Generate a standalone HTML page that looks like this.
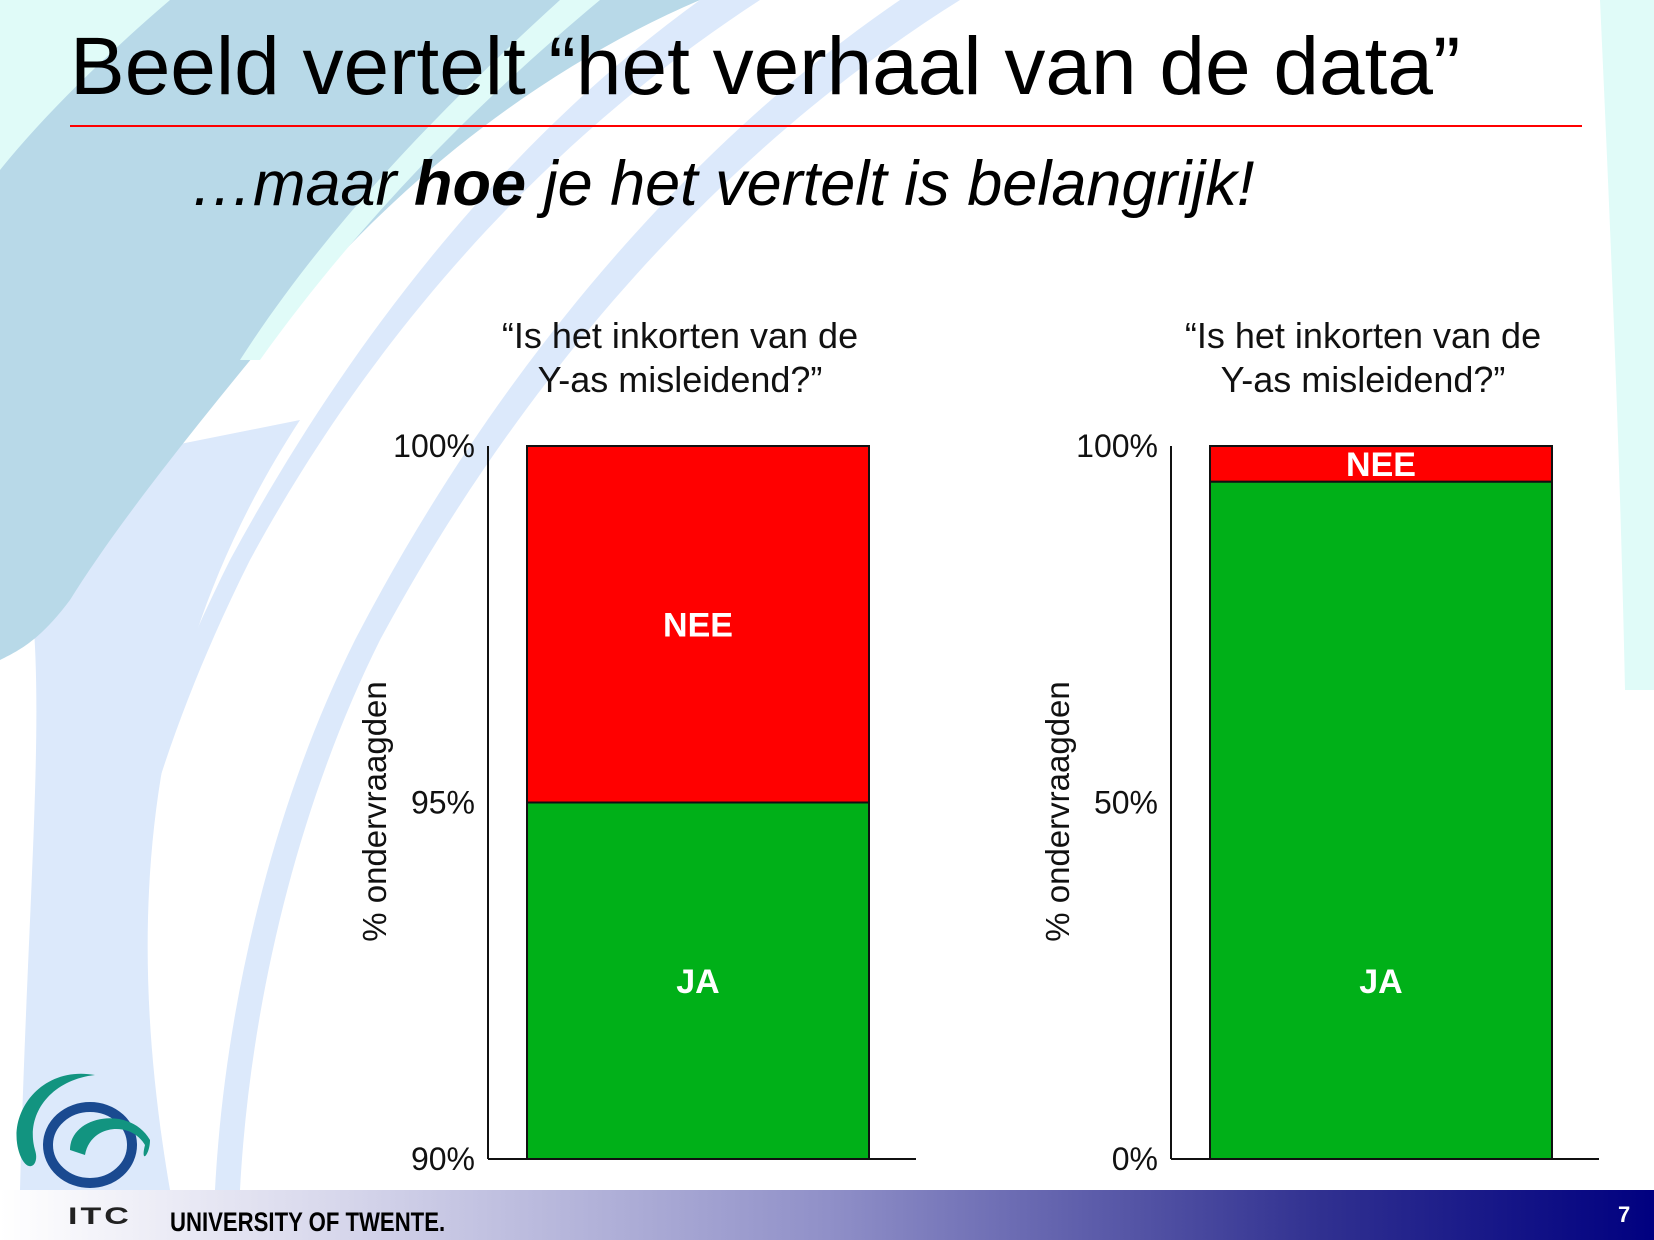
<!DOCTYPE html>
<html><head><meta charset="utf-8"><style>
body{margin:0;width:1654px;height:1240px;overflow:hidden;background:#fff;font-family:"Liberation Sans",sans-serif;position:relative}
.abs{position:absolute}
</style></head><body>
<svg class="abs" style="left:0;top:0" width="1654" height="1240">
<rect x="0" y="0" width="1654" height="1240" fill="#fff"/>
<path d="M0 480 C60 600 30 800 20 1190 L170 1190 C120 900 150 650 300 420 Z" fill="#dce9fb"/>
<path d="M0 0 L700 0 C560 60 420 160 300 300 C200 420 120 520 70 600 C40 640 20 650 0 660 Z" fill="#b8d9e8"/>
<path d="M0 0 L170 0 C100 60 40 120 0 170 Z" fill="#e0fbf8"/>
<path d="M560 0 L600 0 C480 100 360 220 260 360 L240 360 C330 220 450 100 560 0 Z" fill="#e0fbf8"/>
<path d="M700 0 L760 0 C560 130 380 320 250 560 C150 760 100 950 90 1190 L70 1190 C80 950 130 760 230 560 C360 320 520 130 700 0 Z" fill="#dce9fb"/>
<path d="M900 0 L960 0 C720 150 520 380 380 640 C300 800 250 1000 240 1190 L215 1190 C225 1000 275 800 355 640 C490 380 680 150 900 0 Z" fill="#dce9fb"/>
<path d="M1600 0 L1654 0 L1654 690 L1625 690 C1620 450 1610 220 1600 0 Z" fill="#e0fbf8"/>
</svg>
<div class="abs" style="left:70px;top:20px;font-size:82px;color:#000;white-space:nowrap">Beeld vertelt “het verhaal van de data”</div>
<div class="abs" style="left:70px;top:125px;width:1512px;height:2px;background:#f00"></div>
<div class="abs" style="left:190px;top:148px;font-size:63px;font-style:italic;color:#000;white-space:nowrap">…maar <b>hoe</b> je het vertelt is belangrijk!</div>

<svg class="abs" id="charts" style="left:0;top:0" width="1654" height="1190" font-family="Liberation Sans, sans-serif"></svg>

<div class="abs" style="left:0;top:1190px;width:1654px;height:50px;background:linear-gradient(90deg,#ffffff 0%,#d8d8ec 20%,#9090c8 50%,#303090 80%,#000080 100%)"></div>
<div class="abs" style="left:1618px;top:1202px;font-size:22px;font-weight:bold;color:#fff">7</div>
<div class="abs" style="left:68px;top:1203px;font-size:34px;font-weight:900;letter-spacing:3px;color:#222;transform:scaleY(0.7);transform-origin:top left">ITC</div>
<div class="abs" style="left:170px;top:1207px;font-size:27px;font-weight:bold;color:#000;white-space:nowrap;transform:scaleX(0.82);transform-origin:left">UNIVERSITY OF TWENTE.</div>
<svg class="abs" style="left:0;top:1055px" width="160" height="135">
<ellipse cx="90" cy="90" rx="42" ry="38" fill="none" stroke="#1a4a90" stroke-width="10"/>
<path d="M95 20 C40 10 5 60 20 100 C28 120 40 110 35 95 C25 60 50 25 95 20 Z" fill="#129480"/>
<path d="M70 95 C70 60 130 50 150 85 C150 100 140 110 145 90 C130 65 90 70 85 100 Z" fill="#129480"/>
</svg>

<script>
const categories=["JA","NEE"];
const jaValues=[95,95];
const neeValues=[5,5];
const axisMin=[90,0];
const axisMax=[100,100];
const tickLabels=[["90%","95%","100%"],["0%","50%","100%"]];
const tickValues=[[90,95,100],[0,50,100]];
const chartTitle=["“Is het inkorten van de","Y-as misleidend?”"];
const NS="http://www.w3.org/2000/svg";
const svg=document.getElementById('charts');
function mk(tag,attrs,text){const e=document.createElementNS(NS,tag);for(const k in attrs)e.setAttribute(k,attrs[k]);if(text!==undefined)e.textContent=text;svg.appendChild(e);return e;}
const layouts=[{ax:488,bx0:527,bx1:869,aEnd:916},{ax:1171,bx0:1210,bx1:1552,aEnd:1599}];
const plotTop=446,plotBottom=1159;
layouts.forEach((L,i)=>{
  const y=v=>plotBottom-(v-axisMin[i])/(axisMax[i]-axisMin[i])*(plotBottom-plotTop);
  const clamp=v=>Math.max(axisMin[i],Math.min(axisMax[i],v));
  const cx=(L.bx0+L.bx1)/2;
  chartTitle.forEach((t,j)=>{const e=mk('text',{x:cx-18,y:348+j*44,'text-anchor':'middle','font-size':36,fill:'#111'},t);
    
    });
  const jTop=y(clamp(jaValues[i]));
  const ja=mk('rect',{x:L.bx0,y:jTop,width:L.bx1-L.bx0,height:plotBottom-jTop,fill:'#00b018',stroke:'#111','stroke-width':2});
  
  
  const nTop=y(clamp(jaValues[i]+neeValues[i])),nBot=jTop;
  const nee=mk('rect',{x:L.bx0,y:nTop,width:L.bx1-L.bx0,height:nBot-nTop,fill:'#ff0000',stroke:'#111','stroke-width':2});
  
  
  const jaLabelY=Math.max((plotBottom+jTop)/2,plotBottom-0.25*(plotBottom-plotTop));
  const jl=mk('text',{x:cx,y:jaLabelY+12,'text-anchor':'middle','font-size':34,'font-weight':'bold',fill:'#fff'},categories[0]);
  
  
  const nl=mk('text',{x:cx,y:(nTop+nBot)/2+12,'text-anchor':'middle','font-size':34,'font-weight':'bold',fill:'#fff'},categories[1]);
  
  
  const ya=mk('line',{x1:L.ax,y1:plotTop,x2:L.ax,y2:plotBottom,stroke:'#111','stroke-width':2});
  
  
  const xa=mk('line',{x1:L.ax,y1:plotBottom,x2:L.aEnd,y2:plotBottom,stroke:'#111','stroke-width':2});
  
  
  tickValues[i].forEach((v,j)=>{const t=mk('text',{x:L.ax-13,y:y(v)+11,'text-anchor':'end','font-size':32,fill:'#111'},tickLabels[i][j]);
    
    });
  const yt=mk('text',{x:0,y:0,transform:`translate(${L.ax-102},${(plotTop+plotBottom)/2+9}) rotate(-90)`,'text-anchor':'middle','font-size':33,fill:'#111'},'% ondervraagden');
  
  
});
</script>
</body></html>
